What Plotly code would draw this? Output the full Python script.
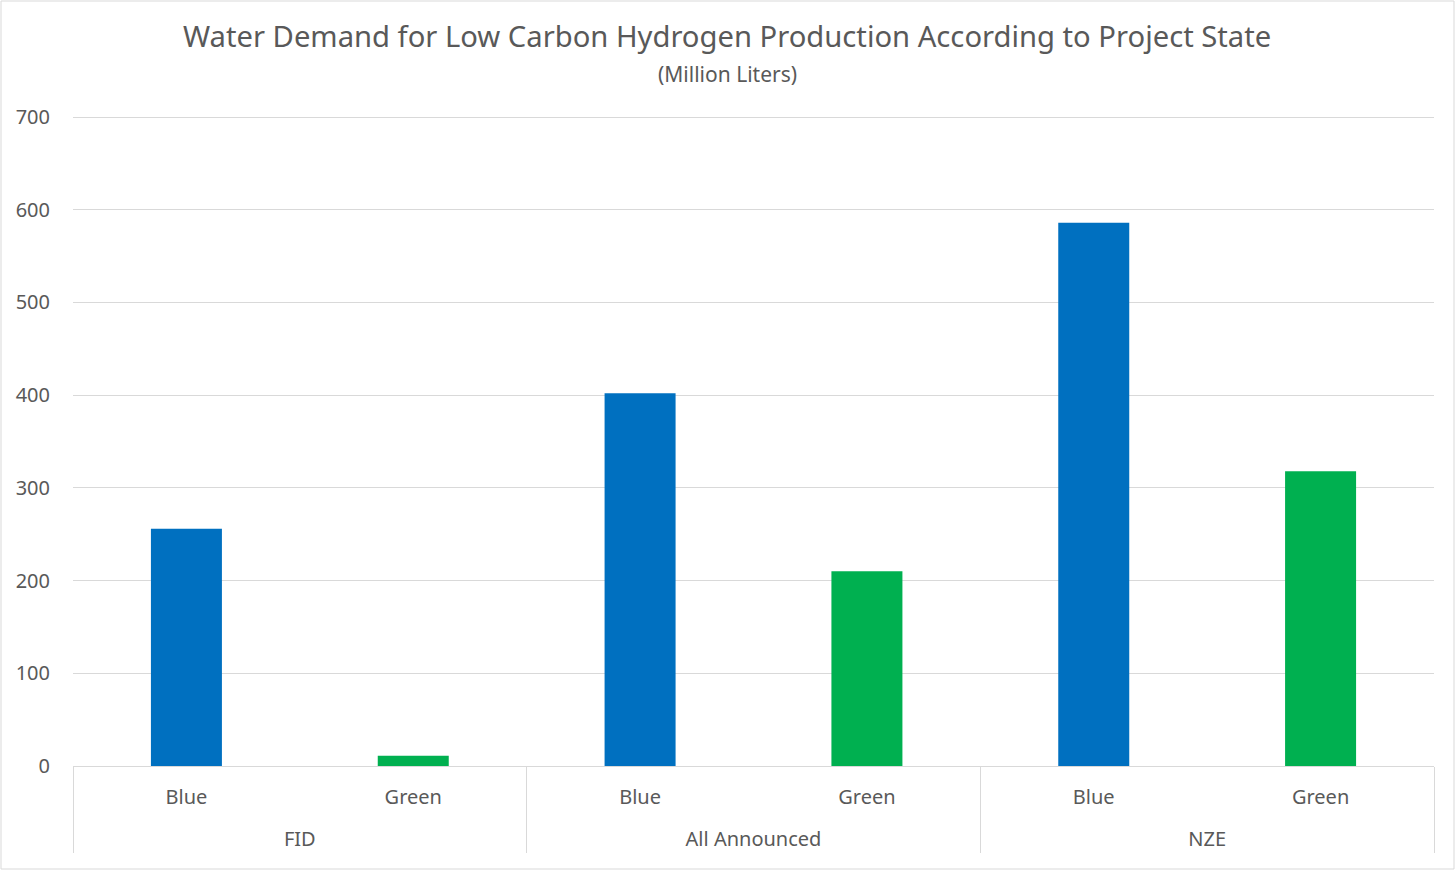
import plotly.graph_objects as go

groups = ["FID", "FID", "All Announced", "All Announced", "NZE", "NZE"]
kinds = ["Blue", "Green", "Blue", "Green", "Blue", "Green"]
values = [256, 11, 402, 210, 586, 318]
colors = ["#0070C0", "#00B050", "#0070C0", "#00B050", "#0070C0", "#00B050"]
yticks = [0, 100, 200, 300, 400, 500, 600, 700]

W, H = 1456, 872
ml, mr, mt, mb = 73, 22, 114, 106
pw, ph = W - ml - mr, H - mt - mb
ymax = ph / (649 / 700)

font = "Noto Sans"
fig = go.Figure(go.Bar(x=[["<br>" + g for g in groups], kinds], y=values,
                       marker=dict(color=colors, line=dict(width=0))))

fig.update_layout(
    width=W, height=H,
    margin=dict(l=ml, r=mr, t=mt, b=mb, autoexpand=False),
    paper_bgcolor="white", plot_bgcolor="white",
    bargap=0.687,
    showlegend=False,
    font=dict(family=font, color="#595959", size=20),
)
cx = (727 - ml) / pw
fig.add_annotation(text="Water Demand for Low Carbon Hydrogen Production According to Project State",
                   xref="paper", yref="paper", x=cx, y=1 + (mt - 36) / ph, xanchor="center", yanchor="middle",
                   showarrow=False, font=dict(family=font, size=29.2, color="#595959"))
fig.add_annotation(text="(Million Liters)",
                   xref="paper", yref="paper", x=cx, y=1 + (mt - 74) / ph, xanchor="center", yanchor="middle",
                   showarrow=False, font=dict(family=font, size=21, color="#595959"))
fig.update_yaxes(
    range=[0, ymax], tickvals=yticks, showgrid=True, gridcolor="#D9D9D9", gridwidth=1,
    zeroline=False, showline=False, ticks="", tickfont=dict(size=20, color="#595959"),
    ticklabelstandoff=22, automargin=False,
)
fig.update_xaxes(
    type="multicategory", showline=True, linecolor="#D9D9D9", linewidth=1,
    showdividers=True, dividercolor="#D9D9D9", dividerwidth=1,
    ticks="", tickfont=dict(size=20, color="#595959"), automargin=False,
    ticklabelstandoff=13,
)
fig.add_shape(type="rect", xref="paper", yref="paper",
              x0=-(ml - 1) / pw, x1=1 + (mr - 2) / pw,
              y0=-(mb - 3) / ph, y1=1 + (mt - 1) / ph,
              line=dict(color="#D9D9D9", width=1), layer="below")

fig.write_html("out.html", config={"displayModeBar": False})
with open("out.html", encoding="utf-8") as f:
    html = f.read()
html = html.replace("<head>", "<head><style>html,body{margin:0;padding:0;overflow:hidden;}</style>", 1)
with open("out.html", "w", encoding="utf-8") as f:
    f.write(html)
